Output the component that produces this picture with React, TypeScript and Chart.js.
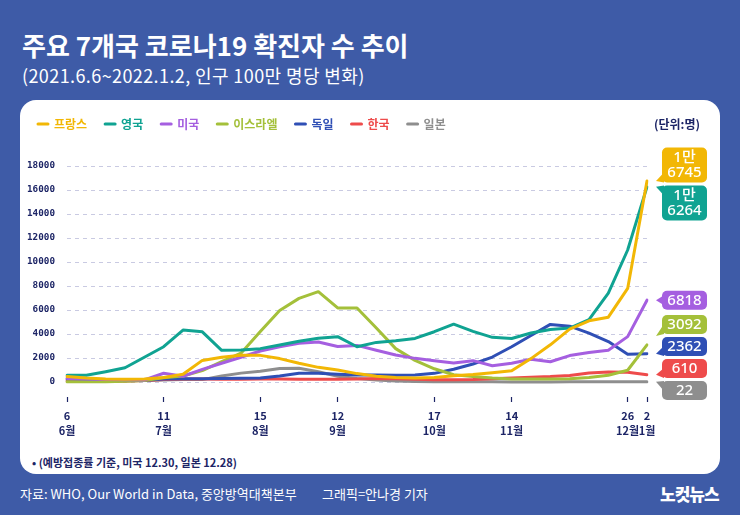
import React, { useEffect, useRef } from "react";
import { Chart, registerables } from "chart.js";

Chart.register(...registerables);

// ---------- data ----------
const weeks = [
  "6/6", "6/13", "6/20", "6/27", "7/4", "7/11", "7/18", "7/25", "8/1", "8/8",
  "8/15", "8/22", "8/29", "9/5", "9/12", "9/19", "9/26", "10/3", "10/10", "10/17",
  "10/24", "10/31", "11/7", "11/14", "11/21", "11/28", "12/5", "12/12", "12/19", "12/26", "1/2",
];
const shownWeeks = ["6/6", "7/11", "8/15", "9/12", "10/17", "11/14", "12/26", "1/2"];
const dayTicks = ["6", "11", "15", "12", "17", "14", "26", "2"];
const monthTicks = ["6월", "7월", "8월", "9월", "10월", "11월", "12월", "1월"];
const yTickValues = [0, 2000, 4000, 6000, 8000, 10000, 12000, 14000, 16000, 18000];

const france = [450, 330, 250, 220, 260, 380, 640, 1800, 2060, 2220, 2220, 1950, 1560, 1220, 1000, 700, 480, 380, 340, 370, 520, 620, 780, 940, 1950, 3100, 4400, 5100, 5400, 7800, 16745];
const uk = [555, 555, 860, 1190, 2060, 2940, 4330, 4180, 2640, 2670, 2780, 3080, 3390, 3640, 3780, 2940, 3300, 3440, 3630, 4190, 4820, 4220, 3720, 3630, 4080, 4380, 4500, 5200, 7400, 11000, 16264];
const usa = [300, 250, 210, 180, 170, 730, 480, 1050, 1560, 2060, 2580, 2940, 3220, 3330, 2960, 3050, 2650, 2250, 1970, 1780, 1580, 1780, 1360, 1560, 1890, 1690, 2200, 2450, 2640, 3780, 6818];
const israel = [20, 20, 30, 60, 120, 350, 500, 950, 1700, 2400, 4200, 5950, 6970, 7530, 6170, 6170, 4500, 2780, 1800, 1100, 600, 460, 330, 260, 240, 240, 270, 380, 560, 980, 3092];
const germany = [260, 200, 150, 120, 150, 260, 270, 280, 290, 310, 330, 500, 720, 720, 640, 580, 580, 560, 580, 720, 1060, 1500, 2080, 2940, 3880, 4800, 4650, 4080, 3370, 2320, 2362];
const korea = [60, 60, 70, 90, 130, 200, 240, 240, 230, 230, 240, 240, 230, 230, 220, 250, 300, 280, 220, 190, 180, 200, 280, 330, 400, 450, 550, 750, 830, 820, 610];
const japan = [150, 130, 110, 110, 130, 160, 200, 200, 500, 740, 900, 1130, 1140, 860, 480, 300, 170, 80, 40, 25, 20, 15, 12, 10, 10, 10, 12, 14, 18, 20, 22];

const seriesNames = ["프랑스", "영국", "미국", "이스라엘", "독일", "한국", "일본"];
const seriesValues = [france, uk, usa, israel, germany, korea, japan];
const seriesColors = ["#f2b705", "#10a392", "#a55fe0", "#a4c03a", "#2f4fb5", "#ee4b4b", "#8e8e8e"];

// ---------- styles ----------
const BG = "#3e5ba7";
const NAVY = "#1d2566";
const KR = "'Noto Sans CJK KR', 'Noto Sans', sans-serif";

const badgePlugin = {
  id: "endBadges",
  afterDatasetsDraw(chart: any) {
    const ctx = chart.ctx as CanvasRenderingContext2D;
    const yScale = chart.scales.y;
    const area = chart.chartArea;
    const items = chart.data.datasets.map((ds: any) => {
      const v = ds.data[ds.data.length - 1] as number;
      const lines =
        v >= 10000
          ? [`${Math.floor(v / 10000)}만`, String(v % 10000).padStart(4, "0")]
          : [String(v)];
      const h = lines.length === 2 ? 35 : 19;
      const ty = yScale.getPixelForValue(v);
      return { ty, c: ty, h, lines, color: ds.borderColor as string };
    });
    const sorted = [...items].sort((a: any, b: any) => a.ty - b.ty);
    const gap = 3;
    const maxBottom = area.bottom + 3;
    for (let iter = 0; iter < 400; iter++) {
      let moved = false;
      for (let k = 0; k < sorted.length - 1; k++) {
        const a = sorted[k];
        const b = sorted[k + 1];
        const minD = a.h / 2 + b.h / 2 + gap;
        const d = b.c - a.c;
        if (d < minD - 0.01) {
          const push = (minD - d) / 2;
          a.c -= push;
          b.c += push;
          moved = true;
        }
      }
      const last = sorted[sorted.length - 1];
      if (last.c + last.h / 2 > maxBottom) {
        last.c = maxBottom - last.h / 2;
        moved = true;
      }
      if (!moved) break;
    }
    const left = area.right + 15;
    const w = 45;
    const r = 5;
    ctx.save();
    for (const it of sorted) {
      const top = it.c - it.h / 2;
      const bottom = it.c + it.h / 2;
      ctx.fillStyle = it.color;
      ctx.beginPath();
      ctx.roundRect(left, top, w, it.h, r);
      ctx.fill();
      const tipY = Math.max(top - 2, Math.min(bottom + 2, it.ty));
      let b1: number;
      let b2: number;
      if (tipY > bottom - 6) {
        b1 = bottom - 10;
        b2 = bottom;
      } else if (tipY < top + 6) {
        b1 = top;
        b2 = top + 10;
      } else {
        b1 = tipY - 5;
        b2 = tipY + 5;
      }
      ctx.beginPath();
      ctx.moveTo(left + 2, b1);
      ctx.lineTo(left + 2, b2);
      ctx.lineTo(left - 6, tipY);
      ctx.closePath();
      ctx.fill();
      ctx.fillStyle = "#ffffff";
      ctx.font = `500 15px 'Noto Sans', 'Noto Sans CJK KR', sans-serif`;
      ctx.textAlign = "center";
      ctx.textBaseline = "middle";
      if (it.lines.length === 2) {
        ctx.fillText(it.lines[0], left + w / 2, it.c - 7.5);
        ctx.fillText(it.lines[1], left + w / 2, it.c + 7.5);
      } else {
        ctx.fillText(it.lines[0], left + w / 2, it.c + 0.5);
      }
    }
    ctx.restore();
  },
};

export default function App() {
  const ref = useRef<HTMLCanvasElement | null>(null);

  useEffect(() => {
    if (!ref.current) return;
    const chart = new Chart(ref.current, {
      type: "line",
      data: {
        labels: weeks,
        datasets: seriesNames.map((name, i) => ({
          label: name,
          data: seriesValues[i],
          borderColor: seriesColors[i],
          backgroundColor: seriesColors[i],
          borderWidth: 3,
          pointRadius: 0,
          tension: 0,
          fill: false,
          borderJoinStyle: "round" as const,
          borderCapStyle: "round" as const,
        })),
      },
      options: {
        animation: false,
        responsive: false,
        devicePixelRatio: 1,
        events: [],
        layout: { padding: { left: 0, right: 73, top: 0, bottom: 0 } },
        plugins: {
          tooltip: { enabled: false },
          legend: {
            display: true,
            position: "top",
            align: "start",
            labels: {
              usePointStyle: true,
              pointStyleWidth: 10,
              padding: 18,
              font: { family: KR, size: 12, weight: "bold" },
              generateLabels: (c: any) =>
                c.data.datasets.map((ds: any, i: number) => ({
                  text: ds.label,
                  fillStyle: ds.borderColor,
                  strokeStyle: ds.borderColor,
                  fontColor: ds.borderColor,
                  lineWidth: 3,
                  lineCap: "round",
                  pointStyle: "line",
                  hidden: false,
                  datasetIndex: i,
                })),
            },
          },
        },
        scales: {
          x: {
            type: "category",
            afterFit: (s: any) => {
              s.height = 48;
            },
            ticks: {
              autoSkip: false,
              maxRotation: 0,
              minRotation: 0,
              padding: 6,
              color: NAVY,
              font: { family: KR, size: 11, weight: "bold", lineHeight: 1.36 },
              callback: (_v: any, index: number) => {
                const k = shownWeeks.indexOf(weeks[index]);
                return k >= 0 ? [dayTicks[k], monthTicks[k]] : "";
              },
            },
            grid: {
              drawOnChartArea: false,
              drawTicks: true,
              tickLength: 5,
              tickWidth: 1.2,
              color: "rgba(0,0,0,0)",
              tickColor: (c: any) =>
                shownWeeks.indexOf(weeks[c.index]) >= 0 ? NAVY : "rgba(0,0,0,0)",
            },
            border: { display: false },
          },
          y: {
            min: -1250,
            max: 20167,
            afterFit: (s: any) => {
              s.width = 47;
            },
            afterBuildTicks: (s: any) => {
              s.ticks = yTickValues.map((v) => ({ value: v }));
            },
            ticks: {
              padding: 12,
              color: NAVY,
              font: { family: "'DejaVu Sans Mono', monospace", size: 9.3, weight: "bold" },
              callback: (v: any) => String(v),
            },
            grid: { color: "#c9cae2", lineWidth: 1, drawTicks: false },
            border: { display: false, dash: [4, 4] },
          },
        },
      },
      plugins: [badgePlugin],
    } as any);
    return () => chart.destroy();
  }, []);

  return (
    <div
      style={{
        position: "absolute",
        left: 0,
        top: 0,
        width: 740,
        height: 515,
        background: BG,
        overflow: "hidden",
        fontFamily: KR,
      }}
    >
      <div
        style={{
          position: "absolute",
          left: 22,
          top: 30,
          fontSize: 26,
          lineHeight: "30px",
          fontWeight: 700,
          letterSpacing: 0,
          color: "#ffffff",
          whiteSpace: "nowrap",
        }}
      >
        주요 7개국 코로나19 확진자 수 추이
      </div>
      <div
        style={{
          position: "absolute",
          left: 22,
          top: 63,
          fontSize: 18,
          lineHeight: "24px",
          fontWeight: 400,
          letterSpacing: 0.4,
          color: "#ffffff",
          whiteSpace: "nowrap",
        }}
      >
        (2021.6.6~2022.1.2, 인구 100만 명당 변화)
      </div>
      <div
        style={{
          position: "absolute",
          left: 20,
          top: 100,
          width: 700,
          height: 374,
          background: "#ffffff",
          borderRadius: 16,
        }}
      />
      <canvas
        ref={ref}
        width={700}
        height={345}
        style={{ position: "absolute", left: 20, top: 100, width: 700, height: 345 }}
      />
      <div
        style={{
          position: "absolute",
          left: 654,
          top: 116,
          fontSize: 12,
          lineHeight: "16px",
          fontWeight: 700,
          color: NAVY,
          whiteSpace: "nowrap",
        }}
      >
        (단위:명)
      </div>
      <div
        style={{
          position: "absolute",
          left: 32,
          top: 454,
          fontSize: 11,
          lineHeight: "16px",
          fontWeight: 700,
          color: NAVY,
          whiteSpace: "nowrap",
        }}
      >
        • (예방접종률 기준, 미국 12.30, 일본 12.28)
      </div>
      <div
        style={{
          position: "absolute",
          left: 20,
          top: 485,
          fontSize: 13,
          lineHeight: "18px",
          color: "#ffffff",
          whiteSpace: "nowrap",
        }}
      >
        자료: WHO, Our World in Data, 중앙방역대책본부
      </div>
      <div
        style={{
          position: "absolute",
          left: 322,
          top: 485,
          fontSize: 13,
          lineHeight: "18px",
          color: "#ffffff",
          whiteSpace: "nowrap",
        }}
      >
        그래픽=안나경 기자
      </div>
      <div
        style={{
          position: "absolute",
          left: 660,
          top: 483,
          fontSize: 17,
          lineHeight: "22px",
          fontWeight: 900,
          color: "#ffffff",
          whiteSpace: "nowrap",
          letterSpacing: -1,
        }}
      >
        노컷뉴스
      </div>
    </div>
  );
}
